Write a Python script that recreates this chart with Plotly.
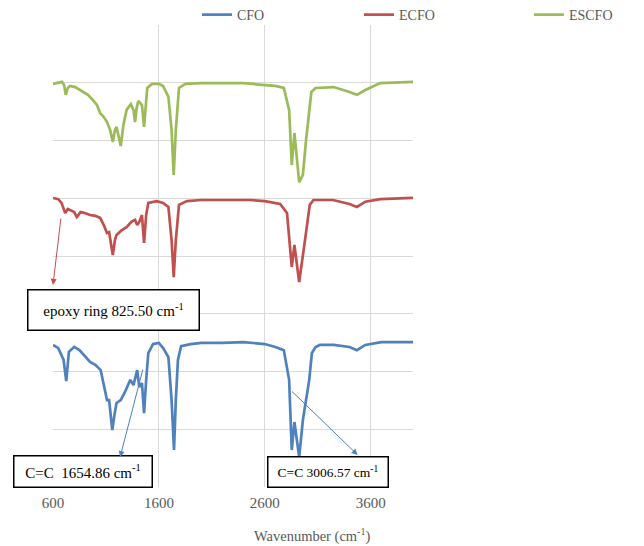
import plotly.graph_objects as go

# CFO (blue)
cfo_wn = [600, 650, 700, 725, 750, 800, 850, 900, 950, 1000, 1050, 1080, 1110, 1130, 1160, 1180, 1200,
          1240, 1280, 1330, 1360, 1395, 1415, 1440, 1460, 1480, 1500, 1545, 1600, 1640, 1690, 1720, 1743,
          1760, 1780, 1810, 1900, 2000, 2200, 2400, 2600, 2700, 2780, 2830, 2855, 2880, 2925, 2960, 3006,
          3020, 3045, 3080, 3120, 3250, 3400, 3470, 3550, 3700, 3850, 4000]
cfo_t = [49.2, 48.1, 44.0, 36.7, 46.8, 48.5, 47.4, 45.4, 43.3, 42.3, 40.5, 35.3, 30.1, 30.1, 19.7, 24.9, 29.1,
         30.1, 32.9, 37.1, 35.3, 40.5, 34.6, 36.0, 25.6, 37.1, 46.4, 49.5, 49.9, 48.1, 45.0, 30.1, 12.8,
         30.1, 44.0, 48.8, 49.5, 49.9, 49.9, 50.2, 49.5, 48.5, 47.4, 37.1, 12.8, 22.5, 10.4, 23.2, 34.6,
         37.1, 46.4, 48.5, 49.2, 49.2, 48.5, 47.4, 49.2, 50.2, 50.2, 50.2]

# ECFO (red)
ecfo_wn = [600, 650, 680, 715, 740, 760, 800, 825, 860, 900, 950, 1000, 1045, 1080, 1110, 1130, 1165, 1185,
           1200, 1250, 1295, 1340, 1375, 1395, 1415, 1440, 1460, 1480, 1500, 1580, 1640, 1690, 1720, 1740,
           1760, 1790, 1865, 2000, 2200, 2460, 2600, 2745, 2810, 2855, 2880, 2925, 2980, 3000, 3025, 3060,
           3245, 3400, 3470, 3550, 3690, 4000]
ecfo_t = [100.1, 99.7, 98.4, 94.9, 96.3, 95.9, 95.2, 93.5, 95.2, 94.9, 94.2, 93.9, 93.2, 90.7, 88.0, 88.3,
          80.3, 85.5, 87.3, 89.0, 90.0, 91.8, 92.5, 90.7, 91.8, 94.2, 84.5, 94.2, 98.4, 99.0, 98.4, 97.0,
          85.5, 72.7, 85.5, 97.7, 99.0, 99.4, 99.4, 99.4, 99.0, 98.0, 94.9, 76.2, 83.8, 71.0, 85.5, 90.7,
          97.7, 99.4, 99.4, 98.0, 97.0, 98.8, 99.7, 100.1]

# ESCFO (green)
escfo_wn = [600, 650, 685, 705, 720, 740, 760, 810, 850, 885, 930, 970, 1015, 1045, 1080, 1110, 1140, 1165,
            1185, 1200, 1220, 1240, 1265, 1295, 1335, 1360, 1375, 1390, 1405, 1440, 1460, 1480, 1490, 1535,
            1600, 1640, 1690, 1720, 1740, 1760, 1790, 1850, 2000, 2200, 2400, 2600, 2700, 2780, 2830, 2855,
            2880, 2925, 2960, 2990, 3010, 3040, 3080, 3250, 3400, 3470, 3550, 3690, 4000]
escfo_t = [139.6, 139.9, 140.3, 139.2, 135.8, 138.2, 138.9, 138.5, 137.5, 136.8, 135.8, 134.3, 132.3, 129.5,
           128.1, 126.4, 123.6, 119.5, 123.6, 124.7, 121.9, 118.1, 125.4, 130.6, 132.6, 130.6, 126.4, 131.3,
           133.7, 132.3, 124.7, 134.0, 138.2, 139.6, 139.6, 138.9, 135.1, 123.6, 108.1, 123.6, 138.2, 139.6,
           139.9, 139.9, 139.9, 139.2, 138.9, 138.2, 130.6, 111.5, 122.6, 105.6, 108.1, 120.2, 127.1, 136.8,
           138.2, 138.5, 136.8, 135.8, 137.5, 139.9, 140.3]

x_ticks = [600, 1600, 2600, 3600]
series_names = ["CFO", "ECFO", "ESCFO"]
colors = ["#4f81bd", "#c0504d", "#9bbb59"]
legend_ids = ["legend", "legend2", "legend3"]
legend_x = [0.40, 0.85, 1.322]

FONT = "Liberation Serif, Times New Roman, DejaVu Serif, serif"

fig = go.Figure()
for name, xs, ys, c, lid in zip(series_names, [cfo_wn, ecfo_wn, escfo_wn], [cfo_t, ecfo_t, escfo_t],
                                colors, legend_ids):
    fig.add_trace(go.Scatter(x=xs, y=ys, mode="lines", name=name, legend=lid,
                             line=dict(color=c, width=2.7)))

box_style = dict(showarrow=False, bgcolor="white", bordercolor="black", borderwidth=1.5,
                 borderpad=0, xref="x", yref="y")

fig.add_annotation(x=1168, y=61.3, text="epoxy ring 825.50 cm<sup>-1</sup>", width=170, height=39,
                   font=dict(family=FONT, size=15, color="black"), **box_style)
fig.add_annotation(x=879, y=5.2, text="C=C  1654.86 cm<sup>-1</sup>", width=137, height=30,
                   font=dict(family=FONT, size=15, color="black"), **box_style)
fig.add_annotation(x=3198, y=5.2, text="C=C 3006.57 cm<sup>-1</sup>", width=119, height=29,
                   font=dict(family=FONT, size=13.5, color="black"), **box_style)

arrow_style = dict(text="", showarrow=True, arrowhead=2, arrowsize=1.2, arrowwidth=1,
                   xref="x", yref="y", axref="x", ayref="y")
fig.add_annotation(x=600, y=70.0, ax=676, ay=93.5, arrowcolor="#c0504d", **arrow_style)
fig.add_annotation(x=1234, y=10.4, ax=1452, ay=41.2, arrowcolor="#4f81bd", **arrow_style)
fig.add_annotation(x=3477, y=11.1, ax=2843, ay=33.6, arrowcolor="#4f81bd", **arrow_style)

fig.add_annotation(x=0.72, y=-0.104, xref="paper", yref="paper", xanchor="center", yanchor="middle",
                   showarrow=False, text="Wavenumber (cm<sup>-1</sup>)",
                   font=dict(family=FONT, size=14.5, color="#595959"))

legend_common = dict(orientation="h", y=1.0216, xanchor="left", yanchor="middle",
                     font=dict(family=FONT, size=14, color="#595959"), bgcolor="rgba(0,0,0,0)")
fig.update_layout(
    width=636, height=538,
    margin=dict(l=45, r=231, t=17, b=59, autoexpand=False),
    paper_bgcolor="white", plot_bgcolor="white",
    font=dict(family=FONT, color="#595959"),
    showlegend=True,
    legend=dict(x=legend_x[0], **legend_common),
    legend2=dict(x=legend_x[1], **legend_common),
    legend3=dict(x=legend_x[2], **legend_common),
    xaxis=dict(range=[600, 4000], tickvals=x_ticks, ticktext=[str(v) for v in x_ticks],
               showgrid=True, gridcolor="#d9d9d9", gridwidth=1, zeroline=False,
               showline=False, ticks="", ticklabelstandoff=5,
               tickfont=dict(family=FONT, size=15, color="#595959")),
    yaxis=dict(range=[0, 160], dtick=20, showgrid=True, gridcolor="#d9d9d9", gridwidth=1,
               zeroline=False, showline=False, showticklabels=False, ticks=""),
)

fig.write_html("out.html")
